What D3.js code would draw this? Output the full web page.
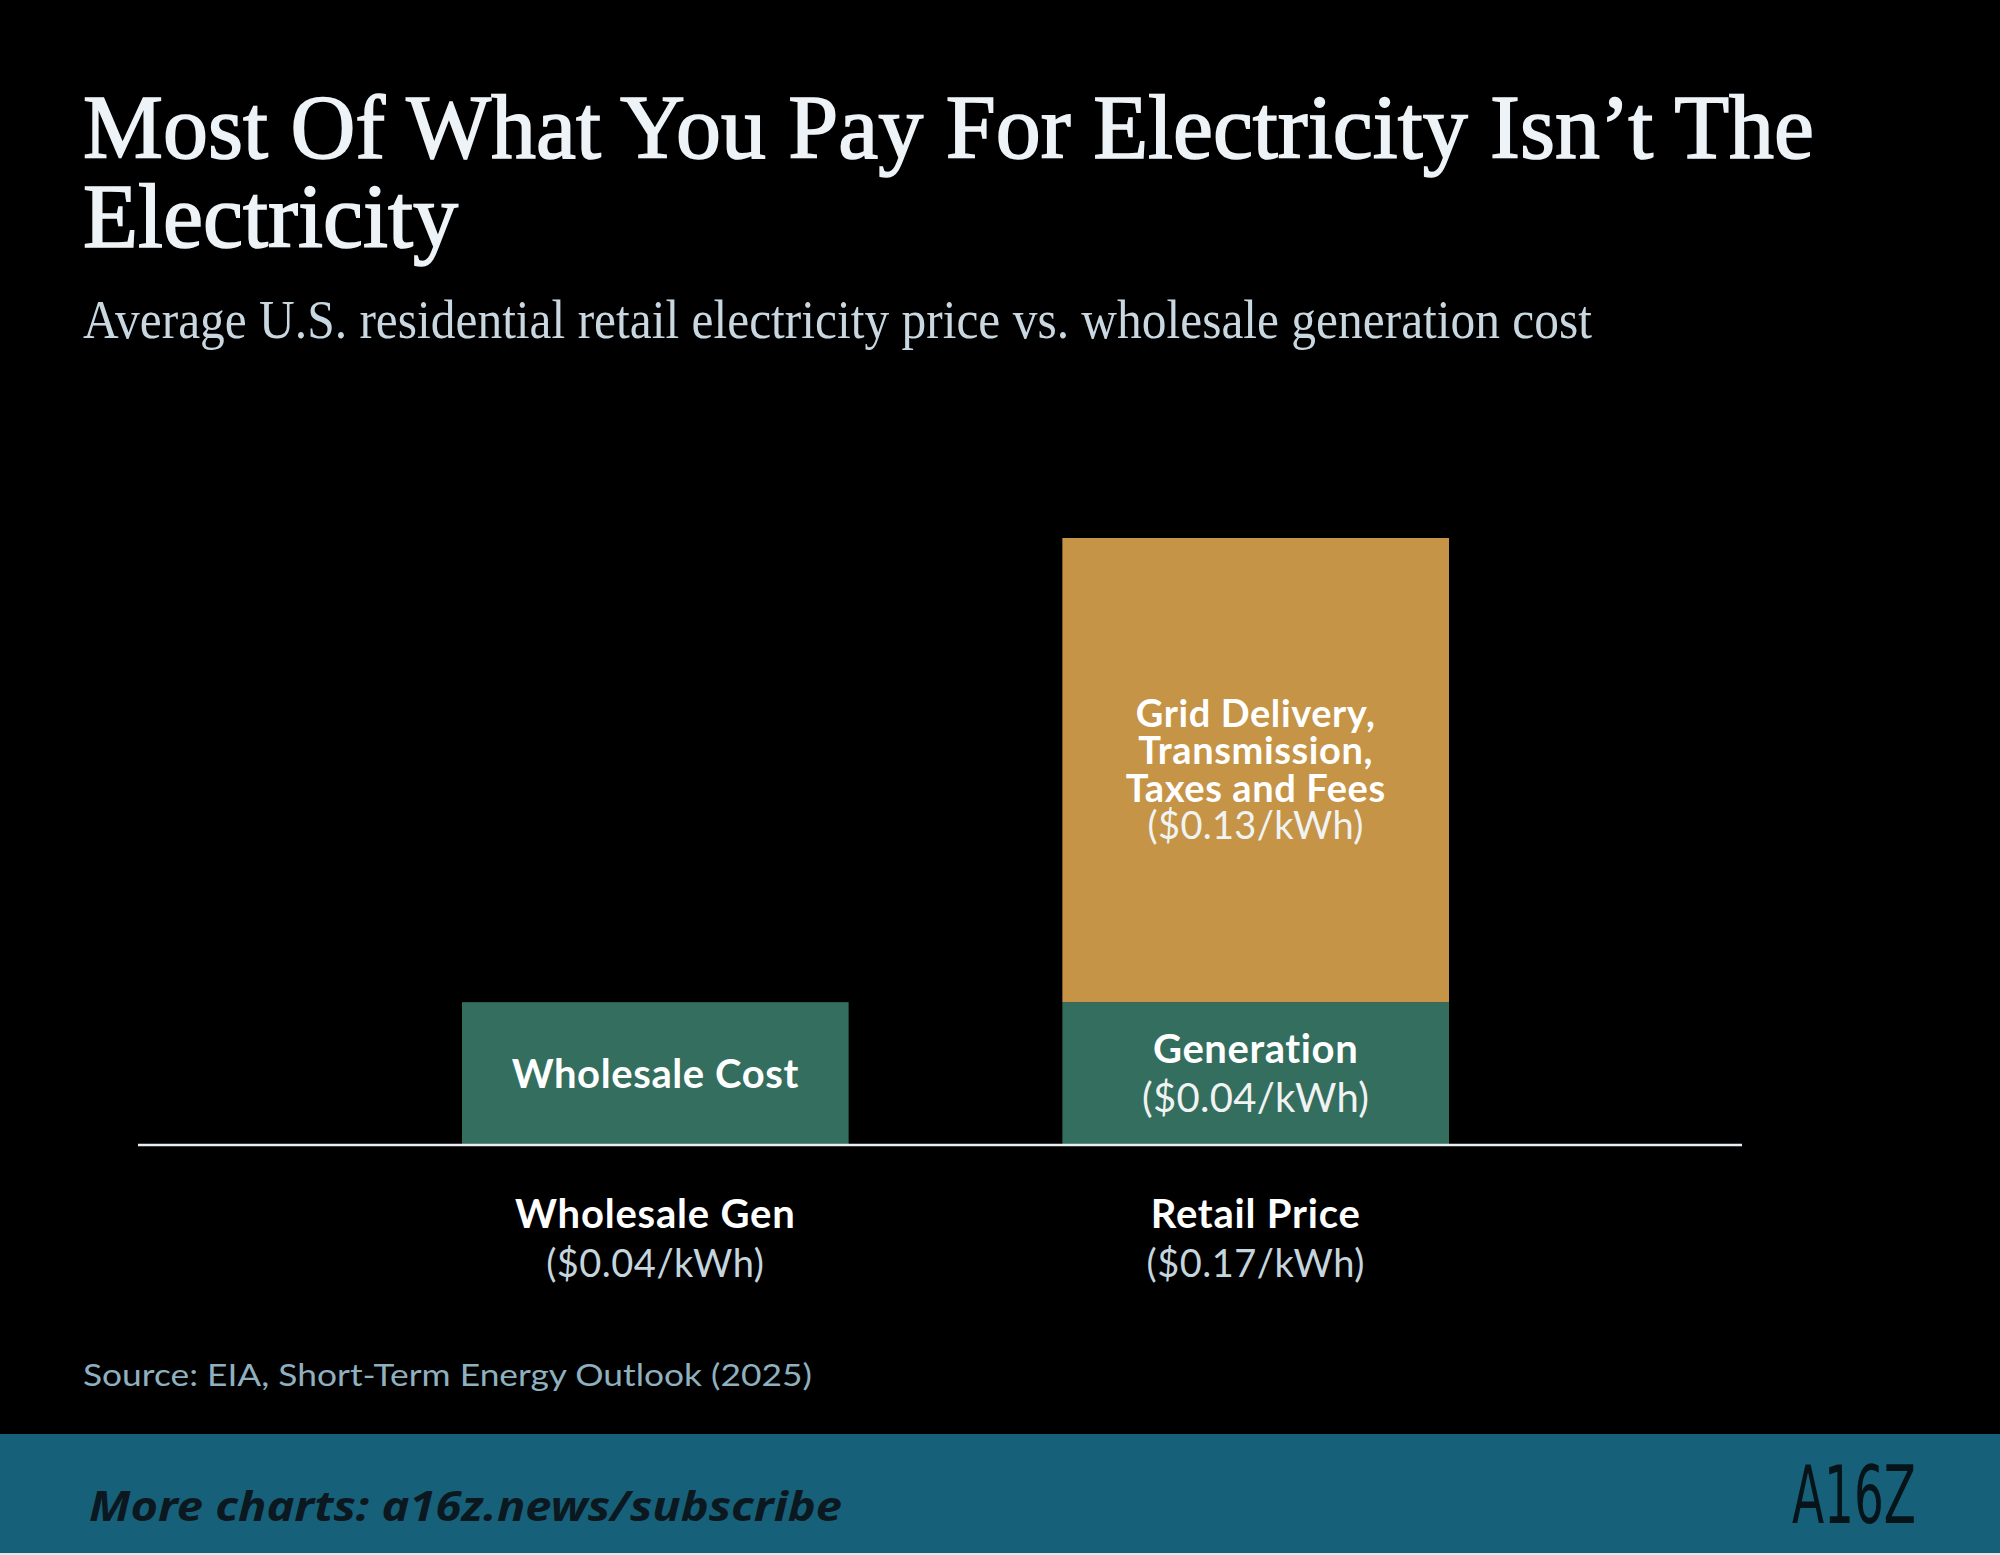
<!DOCTYPE html>
<html>
<head>
<meta charset="utf-8">
<script src="https://cdn.jsdelivr.net/npm/d3@7"></script>
<style>
  html, body { margin: 0; padding: 0; background: #000; }
  svg { display: block; }
</style>
</head>
<body>
<svg id="chart" width="2000" height="1555"></svg>
<script>
// ---- data ----
const categories = ["Wholesale Gen", "Retail Price"];
const categoryValueLabels = ["($0.04/kWh)", "($0.17/kWh)"];
const seriesKeys = ["generation", "grid"];
const generationValues = [0.04, 0.04];
const gridValues = [0, 0.13];
const segmentLabels = {
  generation: [["Wholesale Cost"], ["Generation", "($0.04/kWh)"]],
  grid: [[], ["Grid Delivery,", "Transmission,", "Taxes and Fees", "($0.13/kWh)"]]
};
const titleLines = ["Most Of What You Pay For Electricity Isn\u2019t The", "Electricity"];
const subtitle = "Average U.S. residential retail electricity price vs. wholesale generation cost";
const sourceText = "Source: EIA, Short-Term Energy Outlook (2025)";
const footerText = "More charts: a16z.news/subscribe";

const table = categories.map((c, i) => ({ category: c, generation: generationValues[i], grid: gridValues[i] }));

const W = 2000, H = 1555;
const svg = d3.select("#chart");
svg.append("rect").attr("width", W).attr("height", H).attr("fill", "#000");

const sans = "Lato, 'Noto Sans', sans-serif";
const serif = "'Liberation Serif', 'DejaVu Serif', serif";

// ---- title ----
titleLines.forEach((t, i) => {
  const el = svg.append("text")
    .attr("x", 83).attr("y", 158 + i * 89)
    .attr("fill", "#eef3f7")
    .attr("stroke", "#eef3f7").attr("stroke-width", 1.6)
    .attr("font-family", serif).attr("font-weight", 400)
    .attr("font-size", 90)
    .text(t);
  if (i === 0) el.attr("textLength", 1731).attr("lengthAdjust", "spacingAndGlyphs");
  else el.attr("textLength", 375).attr("lengthAdjust", "spacingAndGlyphs");
});
svg.append("text")
  .attr("x", 83).attr("y", 338)
  .attr("fill", "#c9d7e0")
  .attr("font-family", serif).attr("font-weight", 400)
  .attr("font-size", 54)
  .attr("textLength", 1509).attr("lengthAdjust", "spacingAndGlyphs")
  .text(subtitle);

// ---- scales ----
const x = d3.scaleBand().domain(categories).range([462, 1449]).paddingInner(0.356).paddingOuter(0);
const y = d3.scaleLinear().domain([0, 0.17]).range([1145, 538]);
const colors = d3.scaleOrdinal().domain(seriesKeys).range(["#336e5e", "#c59446"]);

const stacked = d3.stack().keys(seriesKeys)(table);

const layers = svg.append("g").selectAll("g").data(stacked).join("g")
  .attr("fill", d => colors(d.key));
layers.selectAll("rect").data(d => d).join("rect")
  .attr("x", d => x(d.data.category))
  .attr("width", x.bandwidth())
  .attr("y", d => y(d[1]))
  .attr("height", d => Math.max(0, y(d[0]) - y(d[1])));

// ---- segment labels ----
stacked.forEach(layer => {
  layer.forEach((d, i) => {
    const lines = segmentLabels[layer.key][i];
    if (!lines || !lines.length || d[1] - d[0] <= 0) return;
    const cx = x(d.data.category) + x.bandwidth() / 2;
    const cy = (y(d[0]) + y(d[1])) / 2;
    let lh, fs, cap;
    if (layer.key === "grid") { lh = 37.5; fs = 38; cap = 26; }
    else { lh = 49; fs = 40; cap = 28; }
    const first = cy - (lines.length - 1) * lh / 2 + cap / 2;
    lines.forEach((t, j) => {
      const isValue = t.startsWith("(");
      svg.append("text")
        .attr("x", cx).attr("y", first + j * lh)
        .attr("text-anchor", "middle")
        .attr("fill", isValue ? "#f0f3f2" : "#ffffff")
        .attr("font-family", sans)
        .attr("font-weight", isValue ? 400 : 700)
        .attr("letter-spacing", isValue ? 0.3 : 0.6)
        .attr("font-size", fs)
        .text(t);
    });
  });
});

// ---- baseline ----
svg.append("line")
  .attr("x1", 138).attr("x2", 1742)
  .attr("y1", y(0)).attr("y2", y(0))
  .attr("stroke", "#e8eef2").attr("stroke-width", 2.5);

// ---- category labels ----
categories.forEach((c, i) => {
  const cx = x(c) + x.bandwidth() / 2;
  svg.append("text")
    .attr("x", cx).attr("y", y(0) + 83)
    .attr("text-anchor", "middle")
    .attr("fill", "#ffffff").attr("font-family", sans).attr("font-weight", 700)
    .attr("letter-spacing", 0.8)
    .attr("font-size", 40).text(c);
  svg.append("text")
    .attr("x", cx).attr("y", y(0) + 132)
    .attr("text-anchor", "middle")
    .attr("fill", "#c5d5de").attr("font-family", sans).attr("font-weight", 400)
    .attr("letter-spacing", 0.5)
    .attr("font-size", 38).text(categoryValueLabels[i]);
});

// ---- source ----
svg.append("text")
  .attr("x", 83).attr("y", 1386)
  .attr("fill", "#8fb0bf").attr("font-family", sans).attr("font-size", 30)
  .attr("textLength", 729).attr("lengthAdjust", "spacingAndGlyphs")
  .text(sourceText);

// ---- footer ----
svg.append("rect").attr("x", 0).attr("y", 1434).attr("width", W).attr("height", 119).attr("fill", "#176079");
svg.append("rect").attr("x", 0).attr("y", 1553).attr("width", W).attr("height", 2).attr("fill", "#dfe8ec");
svg.append("text")
  .attr("x", 89).attr("y", 1521)
  .attr("fill", "#0b1820").attr("font-family", "'Noto Sans', 'DejaVu Sans', sans-serif")
  .attr("font-weight", 700).attr("font-style", "italic").attr("font-size", 41)
  .attr("textLength", 753).attr("lengthAdjust", "spacingAndGlyphs")
  .text(footerText);
svg.append("text")
  .attr("x", 1792).attr("y", 1523)
  .attr("fill", "#06141a").attr("font-family", "'DejaVu Sans', sans-serif")
  .attr("font-weight", 400).attr("font-size", 80)
  .attr("textLength", 124).attr("lengthAdjust", "spacingAndGlyphs")
  .text("A16Z");
</script>
</body>
</html>
